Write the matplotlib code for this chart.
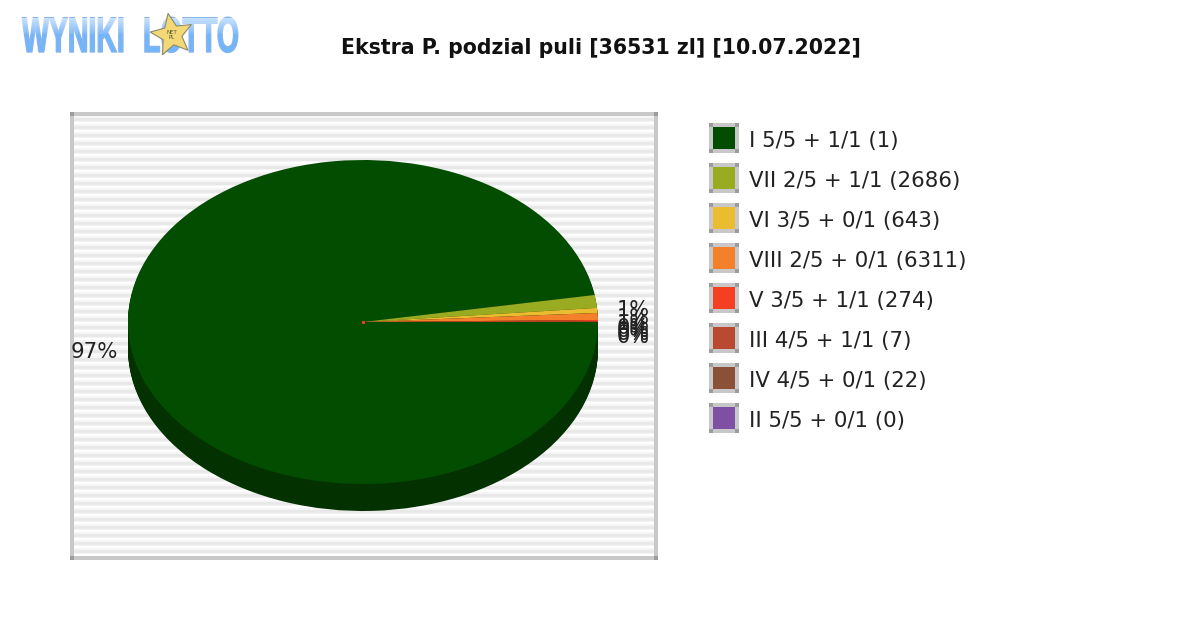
import numpy as np
import matplotlib
matplotlib.use('Agg')
import matplotlib.pyplot as plt
import matplotlib.patheffects as pe
from matplotlib.patches import Rectangle, Polygon
from matplotlib.transforms import Affine2D

W, H = 1200, 630

title = 'Ekstra P. podzial puli [36531 zl] [10.07.2022]'
legend_labels = ['I 5/5 + 1/1 (1)', 'VII 2/5 + 1/1 (2686)', 'VI 3/5 + 0/1 (643)',
                 'VIII 2/5 + 0/1 (6311)', 'V 3/5 + 1/1 (274)', 'III 4/5 + 1/1 (7)',
                 'IV 4/5 + 0/1 (22)', 'II 5/5 + 0/1 (0)']
shares = [97.33, 1.28, 0.50, 0.69, 0.17, 0.01, 0.01, 0.01]
colors = ['#034d00', '#99ab20', '#eabc30', '#f4812a', '#f44020', '#b94a2f', '#8b5038', '#7e4fa3']
side_color = '#033200'
pct_labels = ['97%', '1%', '1%', '1%', '0%', '0%', '0%', '0%']
pct_y = [352, 310, 318, 324, 328, 331, 334, 337]

# frame and pie geometry in pixels
fx0, fx1, fy0, fy1 = 72, 656, 114, 558
cx, cy, rx, ry = 363, 322, 235, 162
depth = 27


class StretchY(pe.AbstractPathEffect):
    # the logo letters are tall and narrow, stretch the text about its baseline
    def __init__(self, sy, edge):
        super().__init__()
        self.sy = sy
        self.edge = edge

    def draw_path(self, renderer, gc, tpath, affine, rgbFace=None):
        m = affine.get_matrix()
        tx, ty = m[0, 2], m[1, 2]
        aff = affine + Affine2D().translate(-tx, -ty).scale(1, self.sy).translate(tx, ty)
        gc0 = renderer.new_gc()
        gc0.copy_properties(gc)
        gc0.set_foreground(self.edge)
        gc0.set_linewidth(1.0)
        renderer.draw_path(gc0, tpath, aff, rgbFace)
        gc0.restore()


fig = plt.figure(figsize=(W / 100, H / 100), dpi=100, facecolor='white')

# page axes, pixel coordinates
page = fig.add_axes([0, 0, 1, 1], zorder=3)
page.set_xlim(0, W)
page.set_ylim(H, 0)
page.axis('off')

# plot area with the striped background
ax = fig.add_axes([fx0 / W, 1 - fy1 / H, (fx1 - fx0) / W, (fy1 - fy0) / H])
stripes = np.array([1.0, 1.0, 0.96, 0.96, 0.91, 0.91, 0.91, 0.96])
rows = np.resize(stripes, fy1 - fy0).reshape(-1, 1)
ax.imshow(rows, cmap='gray', vmin=0, vmax=1, aspect='auto', interpolation='nearest',
          extent=[(fx0 - cx) / rx, (fx1 - cx) / rx, (cy - fy1) / ry, (cy - fy0) / ry], zorder=0)

# extruded side, then the top of the pie
for d in range(depth, 0, -1):
    w, _ = ax.pie(shares, colors=[side_color] * len(shares), startangle=0, counterclock=False,
                  center=(0, -d / ry), frame=True)
    for p in w:
        p.set_zorder(1)
w, _ = ax.pie(shares, colors=colors, startangle=0, counterclock=False, center=(0, 0), frame=True)
for p in w:
    p.set_zorder(2)
ax.plot([0], [0], 's', color='#f44020', ms=1.2, zorder=3)

ax.set_aspect('auto')
ax.set_xlim((fx0 - cx) / rx, (fx1 - cx) / rx)
ax.set_ylim((cy - fy1) / ry, (cy - fy0) / ry)
ax.set_xticks([])
ax.set_yticks([])
for s in ax.spines.values():
    s.set_visible(False)

# frame
bw = 4
for x, y, w_, h_ in [(70, 112, 588, bw), (70, 556, 588, bw), (70, 112, bw, 448), (654, 112, bw, 448)]:
    page.add_patch(Rectangle((x, y), w_, h_, color='#c8c8c8', lw=0))
for x, y in [(70, 112), (654, 112), (70, 556), (654, 556)]:
    page.add_patch(Rectangle((x, y), bw, bw, color='#9c9c9c', lw=0))

# percent labels
page.text(71, pct_y[0], pct_labels[0], fontsize=15.4, color='#222222', ha='left', va='center')
for lab, y in zip(pct_labels[1:], pct_y[1:]):
    page.text(617, y, lab, fontsize=15, color='#222222', ha='left', va='center')

# title
page.text(601, 48, title, fontsize=14.77, fontweight='bold', color='#111111', ha='center', va='center')

# legend
for i, (lab, c) in enumerate(zip(legend_labels, colors)):
    y = 123 + 40 * i
    page.add_patch(Rectangle((709, y), 30, 30, color='#c8c8c8', lw=0))
    for ox, oy in [(0, 0), (26, 0), (0, 26), (26, 26)]:
        page.add_patch(Rectangle((709 + ox, y + oy), 4, 4, color='#9c9c9c', lw=0))
    page.add_patch(Rectangle((713, y + 4), 22, 22, color=c, lw=0))
    page.text(749, y + 18, lab, fontsize=15.35, color='#222222', ha='left', va='center')

# logo
for word, x in [('WYNIKI', 22), ('LOTTO', 143)]:
    page.text(x, 52, word, fontsize=20.5, fontweight='bold', family='Liberation Sans',
              color='#6fb6ff', ha='left', va='baseline',
              path_effects=[StretchY(1.75, '#86b4ea')])
fade = np.zeros((36, 1, 4))
fade[..., :3] = 1
fade[:16, 0, 3] = np.linspace(0.6, 0.1, 16)
page.imshow(fade, extent=[20, 245, 54, 18], aspect='auto', zorder=4)
page.set_xlim(0, W)
page.set_ylim(H, 0)
ang = np.arange(10) * np.pi / 5 - np.pi / 2 - 0.18
rad = np.array([22, 10] * 5)
star = np.column_stack([172 + rad * np.cos(ang), 35 + rad * np.sin(ang)])
page.add_patch(Polygon(star, closed=True, facecolor='#f3d875', edgecolor='#8a8a70', lw=0.8, zorder=5))
page.text(172, 35, 'NET\nPL', fontsize=4, color='#555533', ha='center', va='center', zorder=6)

fig.savefig('out.png', dpi=100)
